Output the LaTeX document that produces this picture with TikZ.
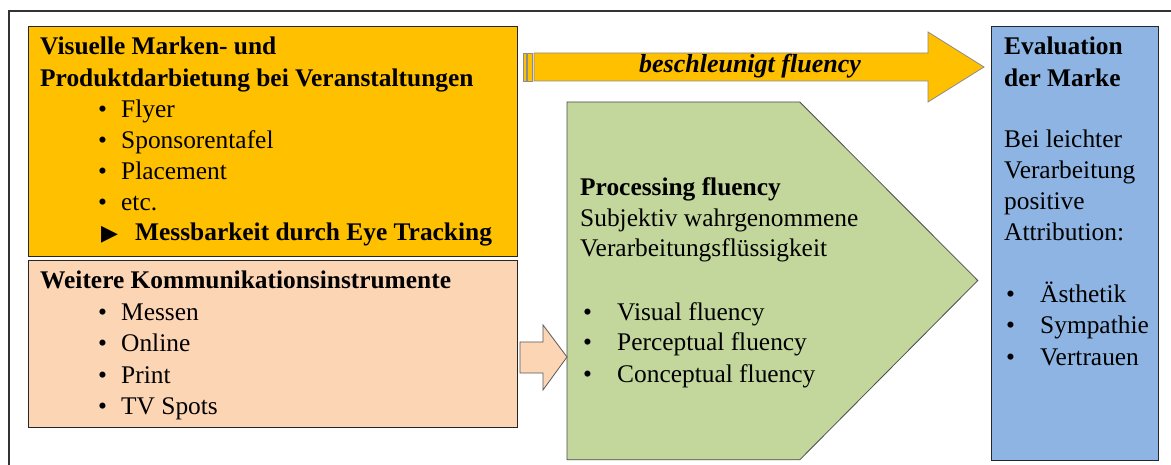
\documentclass[tikz,border=0pt]{standalone}
\usepackage{fontspec}
\setmainfont{Liberation Serif}
\newfontfamily\symfont{DejaVu Sans}
\usetikzlibrary{positioning}

\definecolor{markegelb}{HTML}{FFC000}
\definecolor{pfirsich}{HTML}{FCD5B5}
\definecolor{gruen}{HTML}{C3D69B}
\definecolor{blau}{HTML}{8DB4E2}

\tikzset{
  box/.style={draw=black!85, line width=0.8pt, anchor=north west, inner sep=0},
  pfeil/.style={draw=black!45, line width=0.8pt},
  txt/.style={anchor=base west, inner sep=0, font=\fontsize{25.4}{31}\selectfont},
  hd/.style={anchor=base west, inner sep=0, font=\fontsize{25.4}{31}\selectfont\bfseries},
}

\begin{document}
\begin{tikzpicture}[x=1pt, y=-1pt]
\useasboundingbox (0,0) rectangle (1171,465);
\clip (0,0) rectangle (1171,465);
\fill[white] (0,0) rectangle (1171,465);

% frame
\draw[line width=2pt, black!80] (9,480) -- (9,11) -- (1190,11);

% boxes
\node[box, fill=markegelb, minimum width=489, minimum height=230] (marken) at (28,26) {};
\node[box, fill=pfirsich, minimum width=489, minimum height=167] (kanal) at (28,260) {};
\node[box, fill=blau, minimum width=167, minimum height=434] (bewertung) at (991,26) {};
\node[box, draw=none, minimum width=232, minimum height=357] (fluency) at (567,102) {};
\draw[fill=gruen, draw=black!70, line width=0.8pt] (fluency.north west) -- (fluency.north east)
	-- ++(178,178.5) -- (fluency.south east) -- (fluency.south west) -- cycle;

% arrows
\coordinate (p-tip) at (fluency.west |- 0,357);
\draw[pfeil, draw=black!65, fill=pfirsich] (p-tip) -- ++(-24,-32) -- ++(0,17) -- ++(-23,0)
	-- ++(0,31) -- ++(23,0) -- ++(0,17) -- cycle;

\coordinate (g-tip) at (984,67);
\draw[pfeil, fill=markegelb] (g-tip) -- ++(-56,-35) -- ++(0,21) -- ++(-394,0)
	-- ++(0,28) -- ++(394,0) -- ++(0,21) -- cycle;
\draw[pfeil, fill=markegelb] (523,53) rectangle (526,81);
\draw[pfeil, fill=markegelb] (527.5,53) rectangle (532.5,81);
\node[anchor=base, inner sep=0, font=\fontsize{26}{31}\selectfont\bfseries\itshape] (schneller)
	at (750,73) {beschleunigt fluency};

% Veranstaltungen
\node[hd] (marken-t1) at (40,55) {Visuelle Marken- und};
\node[hd] (marken-t2) at (40,87) {Produktdarbietung bei Veranstaltungen};
\foreach \t [count=\i] in {Flyer, Sponsorentafel, Placement, etc.}
	\node[txt] (marken-\i) at (98,87+31*\i) {\makebox[23pt][l]{\textbullet}\t};
\node[hd] (eyetracking) at (101,241) {\makebox[34pt][l]{\symfont\fontsize{22}{22}\selectfont ▶}Messbarkeit durch Eye Tracking};

% Kommunikation
\node[hd] (kanal-t) at (40,289) {Weitere Kommunikationsinstrumente};
\foreach \t [count=\i] in {Messen, Online, Print, TV Spots}
	\node[txt] (kanal-\i) at (98,290+31*\i) {\makebox[23pt][l]{\textbullet}\t};

% fluency
\node[hd] (fluency-t) at (580,196) {Processing fluency};
\node[txt] (fluency-s1) at (580,227) {Subjektiv wahrgenommene};
\node[txt] (fluency-s2) at (580,257) {Verarbeitungsflüssigkeit};
\foreach \t [count=\i] in {Visual fluency, Perceptual fluency, Conceptual fluency}
	\node[txt] (fluency-\i) at (583,289+31*\i) {\makebox[34pt][l]{\textbullet}\t};

% Evaluation
\node[hd] (bewertung-t1) at (1004,55) {Evaluation};
\node[hd] (bewertung-t2) at (1004,87) {der Marke};
\foreach \t [count=\i] in {Bei leichter, Verarbeitung, positive, Attribution:}
	\node[txt] (bewertung-\i) at (1004,117+31*\i) {\t};
\foreach \t [count=\i] in {Ästhetik, Sympathie, Vertrauen}
	\node[txt] (attribut-\i) at (1006,272+31*\i) {\makebox[34pt][l]{\textbullet}\t};
\end{tikzpicture}
\end{document}
